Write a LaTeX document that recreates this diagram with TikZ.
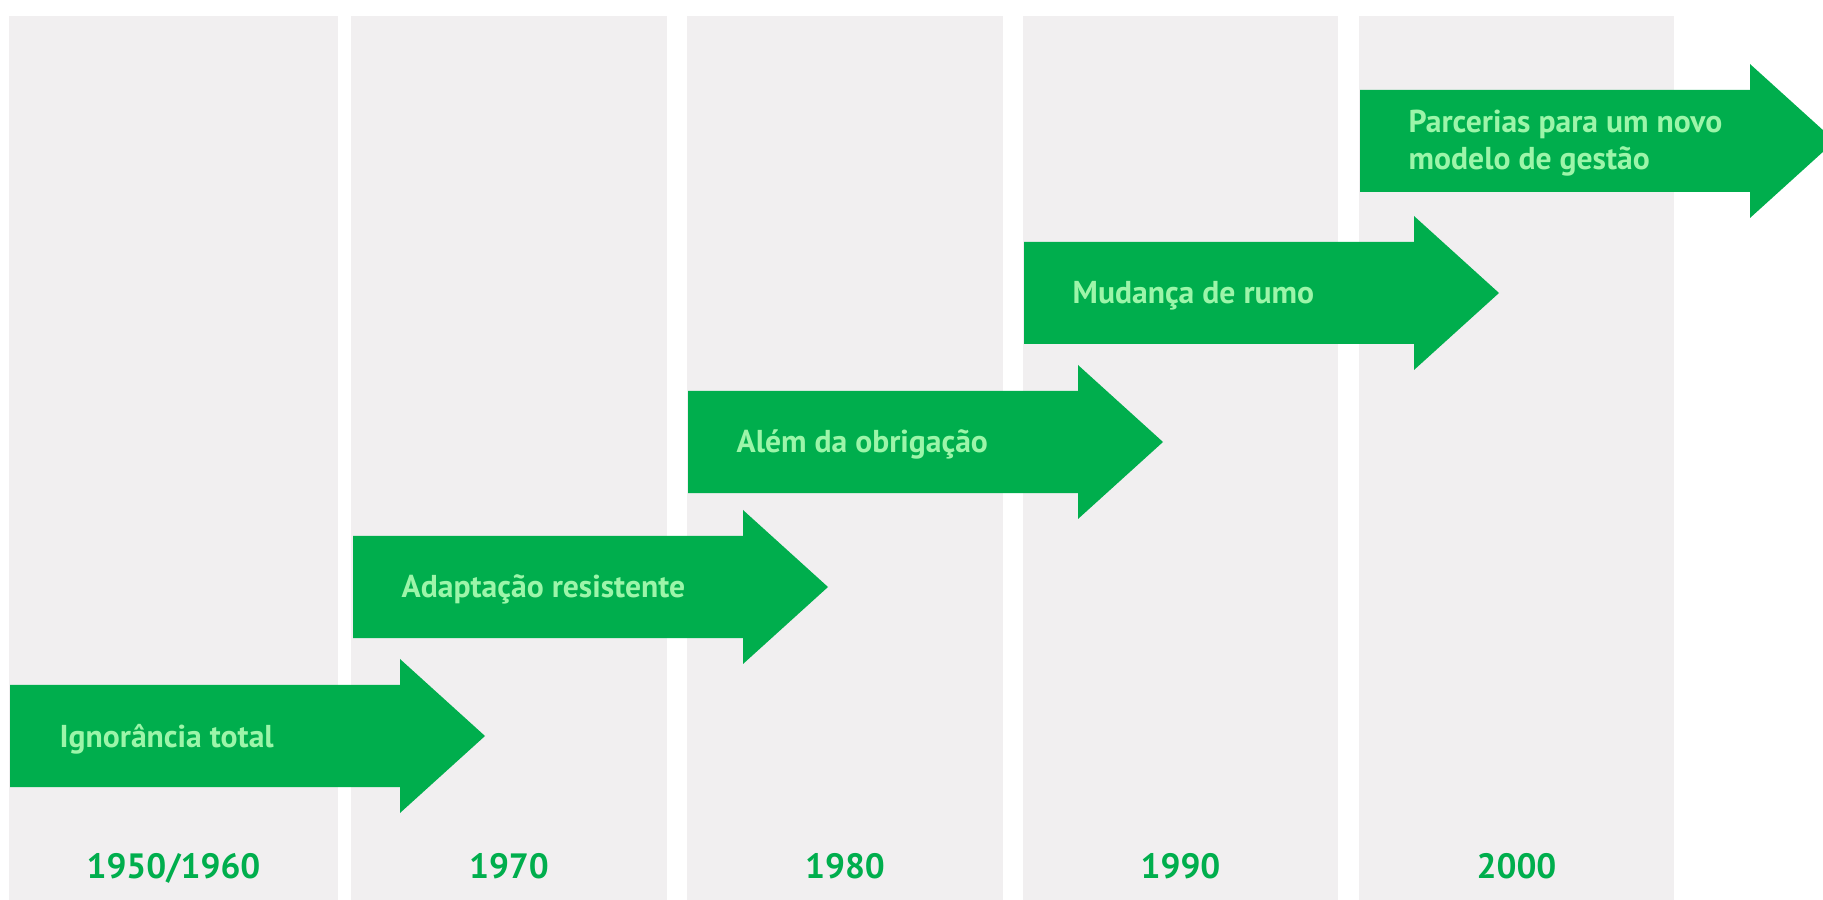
\documentclass[tikz,border=0pt]{standalone}
\usepackage{fontspec}
\setmainfont{PT Sans}
\definecolor{stagegreen}{HTML}{00AE4D}
\definecolor{labelgreen}{HTML}{9CF5A9}
\definecolor{decadegray}{HTML}{F1EFF0}

\begin{document}
\begin{tikzpicture}[
  decade/.style={fill=decadegray},
  stage/.style={fill=stagegreen},
  stagelabel/.style={anchor=base west, text=labelgreen, inner sep=0pt, align=left,
    font=\bfseries\fontsize{9}{10.5}\selectfont},
  yearlabel/.style={anchor=base, text=stagegreen, inner sep=0pt,
    font=\bfseries\fontsize{10}{12}\selectfont}]

\useasboundingbox (0,0) rectangle (18.23,9);
\clip (0,0) rectangle (18.23,9);

% decade columns
\fill[decade] (0.09,0) rectangle (3.38,8.84);
\fill[decade] (3.51,0) rectangle (6.67,8.84);
\fill[decade] (6.87,0) rectangle (10.03,8.84);
\fill[decade] (10.23,0) rectangle (13.38,8.84);
\fill[decade] (13.59,0) rectangle (16.74,8.84);

% stage arrows
\fill[stage] (0.10,2.15) -- ++(3.9,0) -- ++(0,0.26) -- ++(0.85,-0.77) -- ++(-0.85,-0.77) -- ++(0,0.26) -- ++(-3.9,0) -- cycle;
\fill[stage] (3.53,3.64) -- ++(3.9,0) -- ++(0,0.26) -- ++(0.85,-0.77) -- ++(-0.85,-0.77) -- ++(0,0.26) -- ++(-3.9,0) -- cycle;
\fill[stage] (6.88,5.09) -- ++(3.9,0) -- ++(0,0.26) -- ++(0.85,-0.77) -- ++(-0.85,-0.77) -- ++(0,0.26) -- ++(-3.9,0) -- cycle;
\fill[stage] (10.24,6.58) -- ++(3.9,0) -- ++(0,0.26) -- ++(0.85,-0.77) -- ++(-0.85,-0.77) -- ++(0,0.26) -- ++(-3.9,0) -- cycle;
\fill[stage] (13.60,8.10) -- ++(3.9,0) -- ++(0,0.26) -- ++(0.85,-0.77) -- ++(-0.85,-0.77) -- ++(0,0.26) -- ++(-3.9,0) -- cycle;

% stage labels
\node[stagelabel] (ignorancia) at (0.59,1.52) {Ignorância total};
\node[stagelabel] (adaptacao) at (4.01,3.02) {Adaptação resistente};
\node[stagelabel] (alem) at (7.36,4.47) {Além da obrigação};
\node[stagelabel] (mudanca) at (10.72,5.96) {Mudança de rumo};
\node[stagelabel, anchor=west] (parcerias) at (14.08,7.57) {Parcerias para um novo\\modelo de gestão};

% years
\node[yearlabel] (y1950) at (1.735,0.22) {1950/1960};
\node[yearlabel] (y1970) at (5.09,0.22) {1970};
\node[yearlabel] (y1980) at (8.45,0.22) {1980};
\node[yearlabel] (y1990) at (11.805,0.22) {1990};
\node[yearlabel] (y2000) at (15.165,0.22) {2000};

\end{tikzpicture}
\end{document}
